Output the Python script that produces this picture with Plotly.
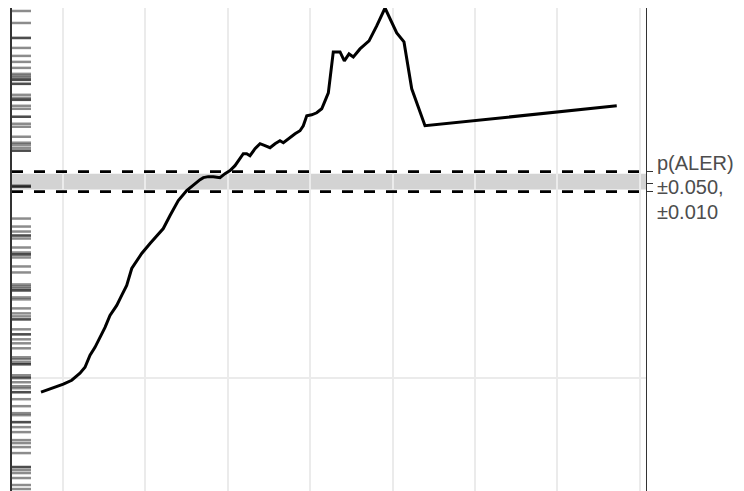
import plotly.graph_objects as go

# ---- data ----
feature_x = [7.33, 10.04, 11.06, 12.06, 12.67, 13.28, 13.88, 14.49, 15.10, 15.70,
             16.52, 17.12, 17.73, 18.34, 19.55, 20.56, 21.17, 22.17, 22.99, 23.99,
             25.01, 26.02, 26.63, 27.03, 27.63, 28.24, 29.05, 29.66, 30.27, 30.87,
             31.48, 31.88, 32.29, 32.69, 33.30, 33.91, 34.51, 35.12, 35.73, 36.33,
             36.74, 37.34, 38.16, 38.76, 39.16, 39.58, 40.18, 40.79, 41.40, 41.80,
             42.20, 42.80, 43.62, 44.14, 44.71, 45.23, 46.04, 47.14, 48.07, 49.08,
             49.68, 50.50, 51.38, 52.32, 53.93, 77.20]
p_ale = [0.186, 0.194, 0.198, 0.205, 0.211, 0.223, 0.231, 0.241, 0.251, 0.263,
         0.273, 0.283, 0.293, 0.310, 0.325, 0.335, 0.341, 0.350, 0.363, 0.378,
         0.388, 0.395, 0.399, 0.401, 0.402, 0.402, 0.401, 0.405, 0.408, 0.413,
         0.421, 0.425, 0.425, 0.423, 0.430, 0.435, 0.433, 0.431, 0.435, 0.438,
         0.436, 0.440, 0.445, 0.448, 0.453, 0.463, 0.464, 0.466, 0.470, 0.478,
         0.486, 0.527, 0.527, 0.518, 0.525, 0.522, 0.530, 0.538, 0.553, 0.571,
         0.561, 0.546, 0.537, 0.490, 0.453, 0.473]

rug_y = [0.568, 0.556, 0.541, 0.541, 0.531, 0.523, 0.517, 0.511, 0.505, 0.503,
         0.501, 0.499, 0.499, 0.495, 0.495, 0.484, 0.481, 0.479, 0.479, 0.473,
         0.470, 0.462, 0.462, 0.455, 0.452, 0.442, 0.436, 0.434, 0.431, 0.428,
         0.428, 0.393, 0.392, 0.392, 0.360, 0.352, 0.347, 0.343, 0.343, 0.340,
         0.331, 0.326, 0.324, 0.324, 0.321, 0.312, 0.306, 0.294, 0.292, 0.290,
         0.288, 0.288, 0.281, 0.279, 0.270, 0.265, 0.262, 0.259, 0.259, 0.249,
         0.244, 0.244, 0.239, 0.235, 0.230, 0.221, 0.219, 0.216, 0.214, 0.214,
         0.203, 0.201, 0.200, 0.196, 0.192, 0.190, 0.186, 0.186, 0.179, 0.172,
         0.165, 0.163, 0.156, 0.156, 0.151, 0.146, 0.138, 0.135, 0.131, 0.125,
         0.111, 0.111, 0.108, 0.105, 0.100, 0.093, 0.089]

p_aler = 0.397
dash_offset = 0.010
band_offset = 0.008
right_ticks = [0.407, 0.395, 0.387]
label_lines = ["p(ALER)", "±0.050,", "±0.010"]
label_y = [0.416, 0.392, 0.367]

x_range = [3.81, 80.75]
y_range = [0.087, 0.571]
x_ticks = [10, 20, 30, 40, 50, 60, 70, 80]
y_ticks = [0.2]

fig = go.Figure()

fig.add_trace(go.Scatter(x=feature_x, y=p_ale, mode="lines",
                         line=dict(color="black", width=3),
                         showlegend=False, hoverinfo="skip"))
# invisible trace for right axis
fig.add_trace(go.Scatter(x=[x_range[0]], y=[p_aler], yaxis="y2", mode="markers",
                         marker=dict(opacity=0), showlegend=False, hoverinfo="skip"))

shapes = []
# band
shapes.append(dict(type="rect", xref="x domain", yref="y", x0=0, x1=1,
                   y0=p_aler - band_offset, y1=p_aler + band_offset,
                   fillcolor="#d3d3d3", line=dict(width=0), layer="below"))
# dashed lines
for s in (1, -1):
    shapes.append(dict(type="line", xref="x domain", yref="y", x0=0, x1=1,
                       y0=p_aler + s * dash_offset, y1=p_aler + s * dash_offset,
                       line=dict(color="black", width=2.8, dash="11px,11px")))
# rug
for v in rug_y:
    shapes.append(dict(type="line", xref="x domain", yref="y", x0=0, x1=0.03,
                       y0=v, y1=v, line=dict(color="rgba(0,0,0,0.45)", width=2.5)))

annotations = []
for txt, yy in zip(label_lines, label_y):
    annotations.append(dict(text=txt, xref="paper", yref="y", x=1, y=yy,
                            xanchor="left", yanchor="middle", xshift=9,
                            showarrow=False,
                            font=dict(family="Liberation Sans, Arial", size=20, color="#4d4d4d")))

fig.update_layout(
    width=736, height=483,
    margin=dict(l=4, r=98, t=0, b=0),
    plot_bgcolor="white", paper_bgcolor="white",
    shapes=shapes, annotations=annotations,
    xaxis=dict(range=x_range, tickvals=x_ticks, showticklabels=False,
               showgrid=True, gridcolor="#ebebeb", gridwidth=1.6,
               zeroline=False, showline=False, ticks=""),
    yaxis=dict(range=y_range, tickvals=y_ticks, showticklabels=False,
               showgrid=True, gridcolor="#ebebeb", gridwidth=1.6,
               zeroline=False, showline=True, linecolor="#333333", linewidth=1.6,
               ticks=""),
    yaxis2=dict(range=y_range, overlaying="y", side="right",
                tickvals=right_ticks, ticktext=["", "", ""],
                ticks="outside", ticklen=6, tickcolor="#333333", tickwidth=1.2,
                showline=True, linecolor="#333333", linewidth=1.4,
                showgrid=False, zeroline=False),
)

fig.write_html("out.html")
